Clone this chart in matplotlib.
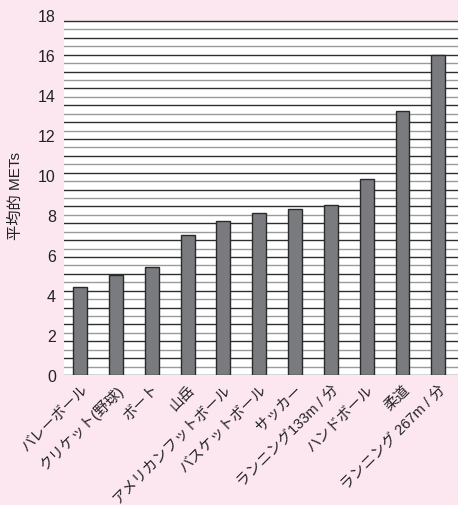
import numpy as np
import matplotlib
matplotlib.use("Agg")
import matplotlib.pyplot as plt

plt.rcParams["font.family"] = ["Liberation Sans", "Noto Sans CJK JP", "DejaVu Sans"]

# 競技別の平均 METs
sports = ["バレーボール", "クリケット(野球)", "ボート", "山岳", "アメリカンフットボール",
          "バスケットボール", "サッカー", "ランニング133m / 分", "ハンドボール", "柔道",
          "ランニング 267m / 分"]
mets = [4.4, 5.0, 5.4, 7.0, 7.7, 8.1, 8.3, 8.5, 9.8, 13.2, 16.0]
yticks = [0, 2, 4, 6, 8, 10, 12, 14, 16, 18]

bg = "#fce7f0"
fig = plt.figure(figsize=(4.58, 5.06), dpi=100, facecolor=bg)
ax = fig.add_axes([0.14, 0.257, 0.86, 0.7115])
ax.set_facecolor("none")

x = np.arange(len(sports))
top = 17.7
ax.axhspan(0, top, color="white", zorder=0)
for i, y in enumerate(np.linspace(0, top, 43)):
    ax.axhline(y, color="#2e2e2e" if i % 2 == 0 else "#9a9a9a", lw=1.0, zorder=1)

ax.bar(x, mets, width=0.39, color="#7a7b7f", edgecolor="#2a2a2a", lw=1.0, zorder=2)

ax.set_xlim(-0.45, len(sports) - 0.45)
ax.set_ylim(0, 18)
ax.set_yticks(yticks)
ax.set_yticklabels([str(v) for v in yticks], fontsize=11.5, color="#222")
ax.set_xticks(x)
ax.set_xticklabels(sports, rotation=45, ha="right", rotation_mode="anchor",
                   fontsize=10.5, color="#222")
ax.tick_params(length=0, pad=6)
ax.tick_params(axis="x", pad=5)
for s in ax.spines.values():
    s.set_visible(False)
ax.set_ylabel("平均的 METs", fontsize=11, color="#222")
ax.yaxis.set_label_coords(-0.105, 0.5)

fig.savefig("out.png", dpi=100, facecolor=bg)
